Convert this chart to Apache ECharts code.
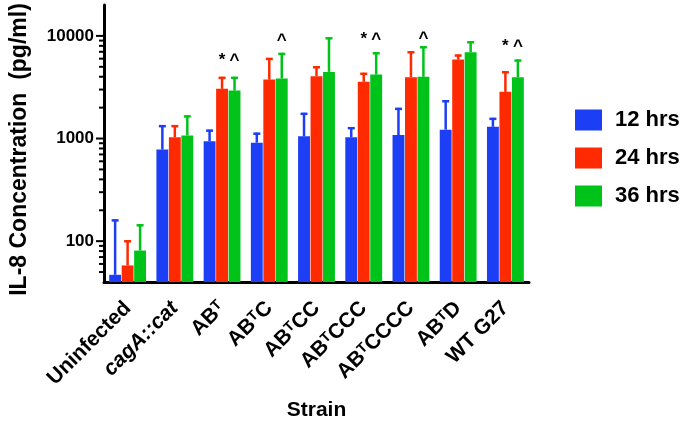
<!DOCTYPE html>
<html><head><meta charset="utf-8">
<script src="https://cdn.jsdelivr.net/npm/echarts@6/dist/echarts.min.js"></script>
<style>html,body{margin:0;padding:0;background:#fff}#c{width:685px;height:428px}</style>
</head><body><div id="c"></div>
<script>
// ---- data ----
const categories = ['Uninfected', 'cagA::cat', 'AB^T', 'AB^TC', 'AB^TCC', 'AB^TCCC', 'AB^TCCCC', 'AB^TD', 'WT G27'];
const seriesNames = ['12 hrs', '24 hrs', '36 hrs'];
const mean12 = [47, 780, 940, 910, 1050, 1030, 1080, 1220, 1300];
const upper12 = [163, 1350, 1220, 1140, 1780, 1290, 1990, 2360, 1590];
const mean24 = [58, 1030, 3050, 3750, 4050, 3570, 3950, 5880, 2850];
const upper24 = [102, 1350, 3990, 6100, 5060, 4370, 7080, 6580, 4520];
const mean36 = [81, 1070, 2930, 3840, 4460, 4200, 3990, 6930, 3950];
const upper36 = [146, 1680, 3990, 6830, 9690, 6930, 7920, 8860, 5880];
const yLabelValues = [100, 1000, 10000];
const yMinorValues = [50, 60, 70, 80, 90, 200, 300, 400, 500, 600, 700, 800, 900,
  2000, 3000, 4000, 5000, 6000, 7000, 8000, 9000];
// significance marks: category index, series index, height value, symbol
const markCat = [2, 2, 3, 5, 5, 6, 8, 8];
const markSeries = [1, 2, 2, 1, 2, 2, 1, 2];
const markLevel = [5800, 5800, 9000, 9300, 9300, 9500, 7900, 7900];
const markText = ['*', '^', '^', '*', '^', '^', '*', '^'];

const colors = ['#1c3ef5', '#ff2a00', '#00c31a'];
const FONT = '"Liberation Sans", Arial, Helvetica, sans-serif';
const CAT_GAP = 0.22, BAR_GAP = 0.05;

const means = [mean12, mean24, mean36];
const uppers = [upper12, upper24, upper36];

function barOffset(params, k) {
  const band = params.coordSys.width / categories.length;
  const bw = band * (1 - CAT_GAP) / (3 + 2 * BAR_GAP);
  return (k - 1) * bw * (1 + BAR_GAP);
}

const series = [];
for (let k = 0; k < 3; k++) {
  series.push({
    type: 'bar', name: seriesNames[k], data: means[k],
    barCategoryGap: (CAT_GAP * 100) + '%', barGap: (BAR_GAP * 100) + '%',
    itemStyle: { color: colors[k] }, z: 2
  });
}
for (let k = 0; k < 3; k++) {
  series.push({
    type: 'custom', name: seriesNames[k], z: 3, silent: true,
    data: categories.map((c, i) => [i, means[k][i], uppers[k][i]]),
    renderItem(params, api) {
      const i = api.value(0);
      const b = api.coord([i, api.value(1)]);
      const t = api.coord([i, api.value(2)]);
      const x = b[0] + barOffset(params, k);
      const st = { stroke: colors[k], lineWidth: 2.5 };
      return { type: 'group', children: [
        { type: 'line', shape: { x1: x, y1: b[1], x2: x, y2: t[1] }, style: st },
        { type: 'line', shape: { x1: x - 3.5, y1: t[1] + 1, x2: x + 3.5, y2: t[1] + 1 }, style: st }
      ] };
    }
  });
}
// y-axis ticks (major + minor) drawn through the axis scale
series.push({
  type: 'custom', silent: true, clip: false, z: 5,
  data: yLabelValues.map(v => [0, v, 1]).concat(yMinorValues.map(v => [0, v, 0])),
  renderItem(params, api) {
    const y = api.coord([0, api.value(1)])[1];
    const x0 = params.coordSys.x;
    const len = api.value(2) ? 8 : 5;
    return { type: 'line', shape: { x1: x0 - len, y1: y, x2: x0, y2: y },
      style: { stroke: '#000', lineWidth: 2 } };
  }
});
// significance marks
series.push({
  type: 'custom', silent: true, clip: false, z: 6,
  data: markCat.map((c, i) => [c, markLevel[i], markSeries[i], i]),
  renderItem(params, api) {
    const p = api.coord([api.value(0), api.value(1)]);
    const x = p[0] + barOffset(params, api.value(2));
    return { type: 'text', x: x, y: p[1],
      style: { text: markText[api.value(3)], fill: '#000', font: 'bold 17px ' + FONT,
        align: 'center', verticalAlign: 'middle' } };
  }
});

function catLabel(name) {
  if (name === 'cagA::cat') return '{i|cagA::cat}';
  return name.replace('^T', '{s|T}');
}

const chart = echarts.init(document.getElementById('c'), null, { renderer: 'canvas' });
chart.setOption({
  animation: false,
  textStyle: { fontFamily: FONT },
  grid: { left: 99, right: 156, top: 5, bottom: 146 },
  legend: {
    data: seriesNames, orient: 'vertical', left: 575, top: 109, padding: 0,
    icon: 'rect', itemWidth: 27, itemHeight: 21, itemGap: 16,
    textStyle: { fontSize: 22, fontWeight: 'bold', color: '#000', fontFamily: FONT, padding: [0, 0, 0, 8] }
  },
  xAxis: {
    type: 'category', data: categories,
    name: 'Strain', nameLocation: 'middle', nameGap: 118,
    nameTextStyle: { fontSize: 21, fontWeight: 'bold', color: '#000', fontFamily: FONT },
    axisLine: { lineStyle: { color: '#000', width: 3 } },
    axisTick: { alignWithLabel: true, length: 8, lineStyle: { color: '#000', width: 3 } },
    axisLabel: {
      rotate: 45, margin: 23, interval: 0, fontSize: 21, fontWeight: 'bold', color: '#000',
      fontFamily: FONT, formatter: catLabel,
      rich: {
        i: { fontSize: 21, fontWeight: 'bold', fontStyle: 'italic', color: '#000', fontFamily: FONT },
        s: { fontSize: 14, fontWeight: 'bold', color: '#000', fontFamily: FONT, verticalAlign: 'top', lineHeight: 11 }
      }
    }
  },
  yAxis: {
    type: 'log', logBase: 10, min: 40, max: 20000,
    name: 'IL-8 Concentration  (pg/ml)', nameLocation: 'middle', nameGap: 73, nameRotate: 90,
    nameTextStyle: { fontSize: 23, fontWeight: 'bold', color: '#000', fontFamily: FONT, padding: [0, 12, 0, 0] },
    axisLine: { show: true, lineStyle: { color: '#000', width: 3 } },
    axisTick: { show: false },
    splitLine: { show: false },
    axisLabel: {
      margin: 10, fontSize: 17, fontWeight: 'bold', color: '#000', fontFamily: FONT,
      formatter: v => {
        const hit = yLabelValues.find(t => Math.abs(t - v) / t < 1e-6);
        return hit ? String(hit) : '';
      }
    }
  },
  series: series
});
</script>
</body></html>
